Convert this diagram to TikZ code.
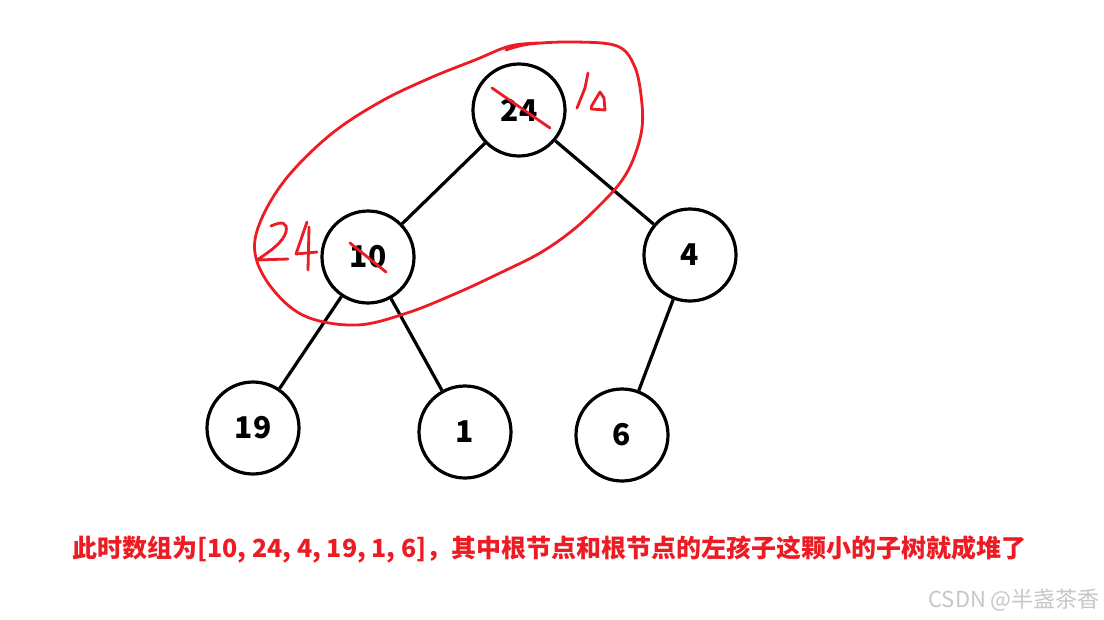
\documentclass[tikz,border=0pt]{standalone}
\usepackage{fontspec}
\setmainfont{Noto Sans CJK SC}
\newfontfamily\cjk{Noto Sans CJK SC}
\begin{document}
\begin{tikzpicture}[x=1pt,y=-1pt,
  tnode/.style={circle,draw=black,line width=3.2pt,minimum size=92pt,inner sep=0pt,font=\cjk\bfseries\fontsize{30}{30}\selectfont},
  tedge/.style={draw=black,line width=3.2pt},
]
\definecolor{pen}{RGB}{237,28,36}
\tikzset{ink/.style={draw=pen,line width=2.8pt,line cap=round,line join=round}}
\useasboundingbox (0,0) rectangle (1104,619);
\fill[white] (0,0) rectangle (1104,619);

\node[tnode] (n24) at (519,110) {24};
\node[tnode] (n10) at (368,257) {10};
\node[tnode] (n4)  at (690,255) {4};
\node[tnode] (n19) at (253,428) {19};
\node[tnode] (n1)  at (465,432) {1};
\node[tnode] (n6)  at (622,435) {6};

\draw[tedge] (n24) -- (n10);
\draw[tedge] (n24) -- (n4);
\draw[tedge] (n10) -- (n19);
\draw[tedge] (n10) -- (n1);
\draw[tedge] (n4) -- (n6);

% red hand-drawn loop
\draw[ink] plot[smooth, tension=0.6] coordinates {
 (506,50) (530,44) (575,42) (617,46) (634,65) (641,95) (642,128) (633,160) (620,183)
 (600,205) (573,230) (540,253) (500,273) (457,293) (407,313) (357,325) (307,317)
 (275,292) (256,258) (259,225) (285,180) (330,135) (380,102) (430,78) (475,60) (510,46) (540,43)};
% strike-throughs
\draw[ink] (492,88) -- (550,128);
\draw[ink] (350,243) -- (386,272);
% "1o"
\draw[ink] (588,73) -- (585,88) -- (577,108);
\draw[ink] (591,107) -- (600,92) -- (604,98) -- (605,110) -- (591,109);
% "24"
\draw[ink] (271,226) .. controls (282,221) and (288,222) .. (286,232) .. controls (283,242) and (272,250) .. (257,260) -- (288,259);
\draw[ink] (307,222) -- (296,254) -- (317,252);
\draw[ink] (309,227) -- (308,270);

\node[anchor=west,text=pen,font=\cjk\bfseries\fontsize{25}{25}\selectfont,inner sep=0pt] (cap) at (72,549)
 {此时数组为[10, 24, 4, 19, 1, 6]，其中根节点和根节点的左孩子这颗小的子树就成堆了};
\node[anchor=east,text=black!22,font=\cjk\fontsize{22}{22}\selectfont,inner sep=0pt] (wm) at (1100,600) {CSDN @半盏茶香};
\end{tikzpicture}
\end{document}
